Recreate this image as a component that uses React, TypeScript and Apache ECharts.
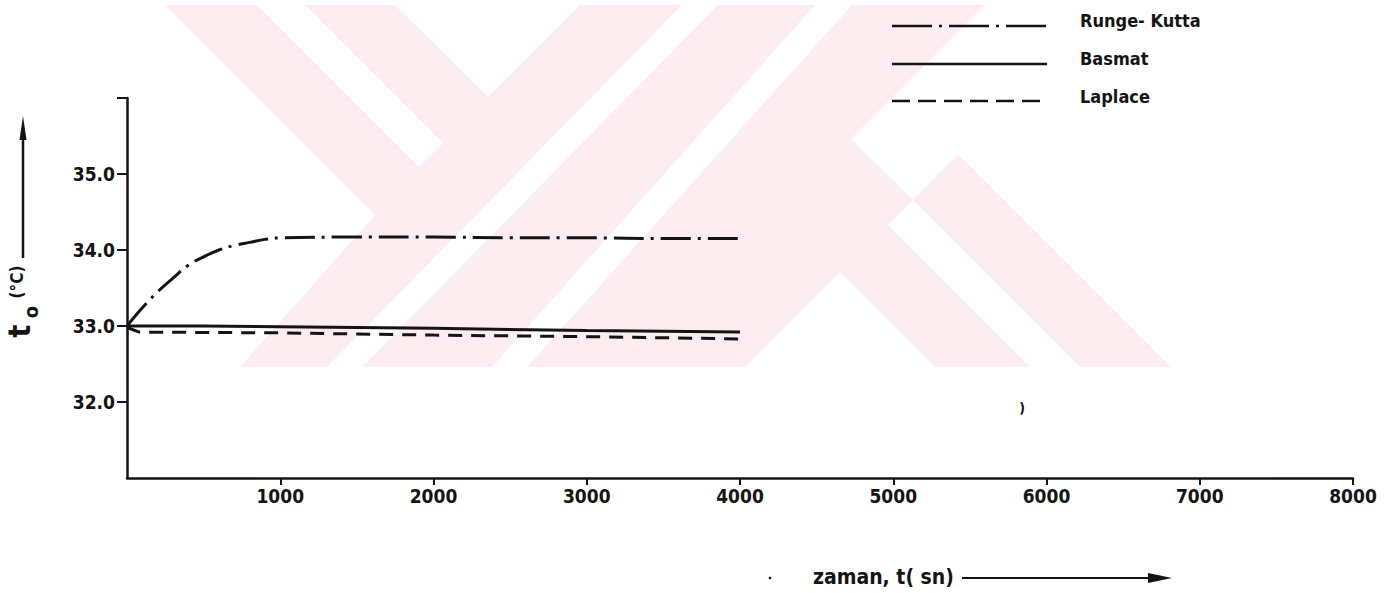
import React, { useEffect, useRef } from 'react';
import * as echarts from 'echarts';

// ---- data ----
const seriesNames = ['Runge- Kutta', 'Basmat', 'Laplace'];
const xTickValues = [1000, 2000, 3000, 4000, 5000, 6000, 7000, 8000];
const yTickValues = [32, 33, 34, 35];
const yTickMarks = [32, 33, 34, 35, 36];

const rungeKutta: [number, number][] = [
  [0, 33.0], [100, 33.24], [200, 33.45], [300, 33.63], [400, 33.8], [500, 33.91],
  [600, 34.0], [700, 34.06], [800, 34.1], [900, 34.14], [1000, 34.16], [1500, 34.17],
  [2000, 34.17], [2500, 34.16], [3000, 34.16], [3500, 34.15], [4000, 34.15],
];
const basmat: [number, number][] = [
  [0, 33.0], [500, 33.0], [1000, 32.99], [2000, 32.97], [3000, 32.94], [4000, 32.92],
];
const laplace: [number, number][] = [
  [0, 32.98], [80, 32.92], [1000, 32.91], [2000, 32.88], [3000, 32.86], [4000, 32.83],
];

const FONT = "'DejaVu Sans Condensed', 'Liberation Sans Narrow', 'Roboto Condensed', 'DejaVu Sans', sans-serif";
const INK = '#141414';
const PINK = '#fdedf0';
const DASHES: (number[] | null)[] = [[30, 7, 3, 7], null, [14, 9]];

function watermark() {
  const pink = (points: number[][]) => ({ type: 'polygon', silent: true, z: -20, shape: { points }, style: { fill: PINK } });
  const white = (points: number[][]) => ({ type: 'polygon', silent: true, z: -19, shape: { points }, style: { fill: '#ffffff' } });
  return [
    pink([[165, 5], [395, 5], [488, 97], [580, 5], [985, 5], [897, 93], [1171, 367], [935, 367], [840, 272], [745, 367], [240, 367], [375, 215]]),
    white([[257, 5], [305, 5], [443, 143], [419, 167]]),
    white([[682, 5], [718, 5], [362, 367], [327, 367]]),
    white([[815, 5], [852, 5], [527, 367], [492, 367]]),
    white([[897, 93], [958, 154], [913, 200], [851, 139]]),
    white([[913, 200], [1080, 367], [1030, 367], [888, 225]]),
  ];
}

function legendGraphic() {
  const lineYs = [26, 64, 101];
  const textYs = [20, 58, 96];
  const out: any[] = [];
  seriesNames.forEach((name, i) => {
    const dash = DASHES[i];
    out.push({
      type: 'line', silent: true, z: 5,
      shape: { x1: 892, y1: lineYs[i], x2: 1047, y2: lineYs[i] },
      style: { stroke: INK, lineWidth: 2.5, lineDash: dash ? (i === 0 ? [40, 7, 3, 7] : [18, 8]) : null },
    });
    out.push({
      type: 'text', silent: true, z: 5, x: 1080, y: textYs[i],
      style: { text: name, fontSize: 18, fontWeight: 'bold', fill: INK, fontFamily: FONT, align: 'left', verticalAlign: 'middle' },
    });
  });
  return out;
}

export default function App() {
  const ref = useRef<HTMLDivElement>(null);
  useEffect(() => {
    if (!ref.current) return;
    const chart = echarts.init(ref.current, null, { renderer: 'svg' });
    const lineCommon = { type: 'line', symbol: 'none', showSymbol: false, z: 3 };
    chart.setOption({
      animation: false,
      backgroundColor: '#ffffff',
      grid: { left: 127, right: 45, top: 98, bottom: 115, containLabel: false },
      xAxis: {
        type: 'value',
        min: 0,
        max: 8000,
        interval: 1000,
        axisLine: { show: true, lineStyle: { color: INK, width: 2.5 } },
        axisTick: { show: true, customValues: xTickValues, length: 7, lineStyle: { color: INK, width: 2 } },
        axisLabel: {
          customValues: xTickValues,
          formatter: (v: number) => (v === 0 ? '' : String(v)),
          fontSize: 19, fontWeight: 'bold', color: INK, fontFamily: FONT, margin: 8,
        },
        splitLine: { show: false },
      },
      yAxis: {
        type: 'value',
        min: 31,
        max: 36,
        interval: 1,
        axisLine: { show: true, lineStyle: { color: INK, width: 2.5 } },
        axisTick: { show: true, customValues: yTickMarks, length: 10, lineStyle: { color: INK, width: 2 } },
        axisLabel: {
          customValues: yTickValues,
          formatter: (v: number) => v.toFixed(1),
          fontSize: 19, fontWeight: 'bold', color: INK, fontFamily: FONT, margin: 12,
        },
        splitLine: { show: false },
      },
      series: [
        { ...lineCommon, name: seriesNames[0], data: rungeKutta, smooth: 0.4, lineStyle: { color: INK, width: 3, type: DASHES[0] } },
        { ...lineCommon, name: seriesNames[1], data: basmat, lineStyle: { color: INK, width: 3, type: 'solid' } },
        { ...lineCommon, name: seriesNames[2], data: laplace, lineStyle: { color: INK, width: 3, type: DASHES[2] } },
      ],
      graphic: [
        ...watermark(),
        ...legendGraphic(),
        // y-axis title and arrow
        { type: 'text', silent: true, x: 19, y: 331, rotation: Math.PI / 2, style: { text: 't', fontSize: 30, fontWeight: 'bold', fill: INK, fontFamily: FONT, align: 'center', verticalAlign: 'middle' } },
        { type: 'text', silent: true, x: 31, y: 312, rotation: Math.PI / 2, style: { text: 'o', fontSize: 20, fontWeight: 'bold', fill: INK, fontFamily: FONT, align: 'center', verticalAlign: 'middle' } },
        { type: 'text', silent: true, x: 17, y: 282, rotation: Math.PI / 2, style: { text: '(°C)', fontSize: 17, fontWeight: 'bold', fill: INK, fontFamily: FONT, align: 'center', verticalAlign: 'middle' } },
        { type: 'line', silent: true, shape: { x1: 23, y1: 258, x2: 23, y2: 134 }, style: { stroke: INK, lineWidth: 2.5 } },
        { type: 'polygon', silent: true, shape: { points: [[23, 116], [19.5, 140], [26.5, 140]] }, style: { fill: INK } },
        // x-axis title and arrow
        { type: 'text', silent: true, x: 813, y: 577, style: { text: 'zaman, t( sn)', fontSize: 21, fontWeight: 'bold', fill: INK, fontFamily: FONT, align: 'left', verticalAlign: 'middle' } },
        { type: 'line', silent: true, shape: { x1: 962, y1: 578, x2: 1152, y2: 578 }, style: { stroke: INK, lineWidth: 2 } },
        { type: 'polygon', silent: true, shape: { points: [[1172, 578], [1148, 573], [1148, 583]] }, style: { fill: INK } },
        // scan specks
        { type: 'text', silent: true, x: 1022, y: 408, style: { text: ')', fontSize: 14, fontWeight: 'bold', fill: INK, fontFamily: FONT, align: 'center', verticalAlign: 'middle' } },
        { type: 'circle', silent: true, shape: { cx: 770, cy: 578, r: 1.3 }, style: { fill: INK } },
      ],
    });
    return () => chart.dispose();
  }, []);
  return <div ref={ref} style={{ position: 'fixed', left: 0, top: 0, width: 1398, height: 593, background: '#fff' }} />;
}
